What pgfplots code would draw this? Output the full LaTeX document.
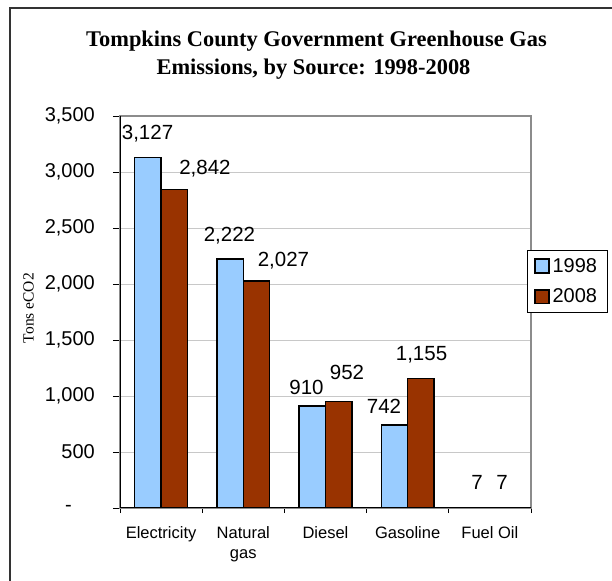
\documentclass[border=0pt]{standalone}
\usepackage{fontspec}
\setmainfont{Liberation Serif}
\newfontfamily\arial{Liberation Sans}
\usepackage{pgfplots}
\pgfplotsset{compat=1.18}
\definecolor{barblue}{HTML}{99CCFF}
\definecolor{barred}{HTML}{993300}
\definecolor{gridgray}{HTML}{C8C8C8}
\definecolor{framegray}{HTML}{8C8C8C}
\pgfplotsset{mylegend/.style={legend image code/.code={\draw[##1, line width=1.8bp, draw=black] (0bp,-6.8bp) rectangle (13.5bp,6.8bp);}}}
\begin{document}
\begin{tikzpicture}
\useasboundingbox (0,0) rectangle (612bp,581bp);
\draw[line width=1.2bp, black!80] (10bp,-5bp) -- (10bp,573bp) -- (620bp,573bp);
\node[font=\fontsize{22.4bp}{28bp}\selectfont\bfseries, anchor=base, inner sep=0pt] at (316.5bp,534bp) {Tompkins County Government Greenhouse Gas};
\node[font=\fontsize{22.4bp}{28bp}\selectfont\bfseries, anchor=base, inner sep=0pt] at (313.5bp,506bp) {Emissions, by Source: 1998-2008};
\begin{axis}[
  at={(120bp,73bp)}, anchor=south west,
  scale only axis, width=411bp, height=392bp,
  xmin=-0.5, xmax=4.5, ymin=0, ymax=3500,
  xtick={0,1,2,3,4},
  xticklabels={Electricity,{Natural\\gas},Diesel,Gasoline,Fuel Oil},
  minor xtick={-0.5,0.5,1.5,2.5,3.5,4.5},
  major x tick style={draw=none},
  minor tick length=5bp,
  ytick={0,500,1000,1500,2000,2500,3000,3500},
  yticklabels={{-\hspace*{23bp}},500,{1,000},{1,500},{2,000},{2,500},{3,000},{3,500}},
  tick align=outside, xtick pos=bottom, ytick pos=left,
  major tick length=7bp,
  tick style={black, line width=0.8bp},
  ymajorgrids, grid style={gridgray, line width=0.8bp},
  axis line style={framegray, line width=1.5bp},
  yticklabel style={font=\arial\fontsize{20bp}{24bp}\selectfont, inner sep=0pt, anchor=east, xshift=-18bp},
  xticklabel style={font=\arial\fontsize{16.5bp}{20bp}\selectfont, align=center, inner sep=0pt, anchor=north, yshift=-11bp},
  ylabel={\fontsize{15.5bp}{18bp}\selectfont Tons eCO2},
  every axis y label/.style={at={(axis description cs:-0.2226,0.51)}, rotate=90, anchor=center},
  legend style={at={(0.99,0.658)}, anchor=north west, draw=black, line width=0.8bp,
    font=\arial\fontsize{20bp}{24bp}\selectfont, inner xsep=7bp, inner ysep=6bp, row sep=11bp,
    cells={anchor=west}, nodes={inner xsep=3bp}},
]
\addplot[ybar, bar width=26.4bp, bar shift=-13.2bp, fill=barblue, draw=black, line width=1.3bp, mylegend]
  coordinates {(0,3127) (1,2222) (2,910) (3,742) (4,7)};
\addlegendentry{1998}
\addplot[ybar, bar width=26.4bp, bar shift=13.2bp, fill=barred, draw=black, line width=1.3bp, mylegend]
  coordinates {(0,2842) (1,2027) (2,952) (3,1155) (4,7)};
\addlegendentry{2008}
\addplot[draw=none, mark=none, forget plot, nodes near coords, point meta=explicit symbolic,
  every node near coord/.append style={anchor=base, inner sep=0pt, black, font=\arial\fontsize{20.5bp}{24bp}\selectfont}]
  table[meta=lab] {
x      y     lab
-0.165 3286  3,127
0.534  2982  2,842
0.832  2375  2,222
1.489  2152  2,027
1.769  1009  910
2.262  1143  952
2.712  848   742
3.168  1321  1,155
3.843  161   7
4.147  161   7
};
\draw[black, line width=1.5bp] (rel axis cs:0,1) -- (rel axis cs:0,0) -- (rel axis cs:1,0);
\draw[black, line width=2.2bp] (axis cs:3.68,0) -- (axis cs:4.32,0);
\end{axis}
\end{tikzpicture}
\end{document}
